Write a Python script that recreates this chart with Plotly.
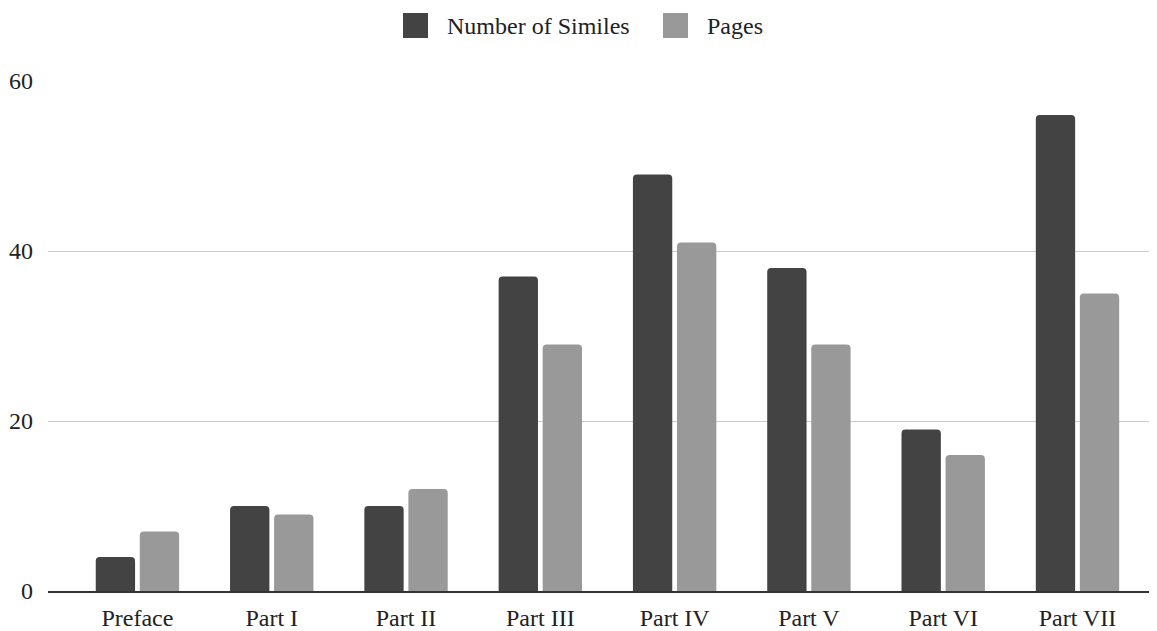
import plotly.graph_objects as go

categories = ["Preface", "Part I", "Part II", "Part III", "Part IV", "Part V", "Part VI", "Part VII"]
similes = [4, 10, 10, 37, 49, 38, 19, 56]
pages = [7, 9, 12, 29, 41, 29, 16, 35]
series_names = ["Number of Similes", "Pages"]
y_ticks = [0, 20, 40, 60]

DARK = "#434343"
LIGHT = "#999999"
FONT = "'Liberation Serif', 'Times New Roman', Tinos, 'DejaVu Serif', serif"
TEXT = "#222222"

# page body has an 8px margin; size the figure so the plot lands where the reference has it
OFF = 8
W, H = 1157 - OFF, 631 - OFF
ML, MR, MT, MB = 48 - OFF, 0, 81 - OFF, 40

fig = go.Figure()
fig.add_trace(go.Bar(x=categories, y=similes, name=series_names[0],
                     marker=dict(color=DARK, cornerradius=4, line=dict(width=0)),
                     showlegend=False))
fig.add_trace(go.Bar(x=categories, y=pages, name=series_names[1],
                     marker=dict(color=LIGHT, cornerradius=4, line=dict(width=0)),
                     showlegend=False))

# custom legend (large squares like the original); positions in page pixels
pw = W - ML - MR
ph = H - MT - MB
def px_x(px):
    return (px - OFF - ML) / pw
def px_y(py):
    return (H - MB - (py - OFF)) / ph

legend_items = [(series_names[0], DARK, 403, 445), (series_names[1], LIGHT, 663, 705)]
shapes = []
annotations = []
for name, col, sx, tx in legend_items:
    shapes.append(dict(type="rect", xref="paper", yref="paper",
                       x0=px_x(sx), x1=px_x(sx + 25), y0=px_y(38), y1=px_y(13),
                       fillcolor=col, line=dict(width=0)))
    annotations.append(dict(text=name, xref="paper", yref="paper",
                            x=px_x(tx), y=px_y(26), xanchor="left", yanchor="middle",
                            showarrow=False, font=dict(family=FONT, size=24, color=TEXT)))

fig.update_layout(
    width=W, height=H,
    margin=dict(l=ML, r=MR, t=MT, b=MB, autoexpand=False),
    plot_bgcolor="white", paper_bgcolor="white",
    barmode="group", bargap=0.344, bargroupgap=0.107,
    font=dict(family=FONT, size=24, color=TEXT),
    shapes=shapes, annotations=annotations,
    xaxis=dict(range=[-0.666, 7.592], showgrid=False, showline=True, automargin=False,
               linecolor="#333333", linewidth=2, ticks="", ticklabelstandoff=4,
               tickfont=dict(family=FONT, size=24, color=TEXT)),
    yaxis=dict(range=[0, 60], tickvals=y_ticks, showgrid=True, gridcolor="#cccccc",
               gridwidth=1, zeroline=False, showline=False, ticks="", automargin=False,
               ticklabelstandoff=14,
               tickfont=dict(family=FONT, size=24, color=TEXT)),
)

fig.write_html("out.html")
